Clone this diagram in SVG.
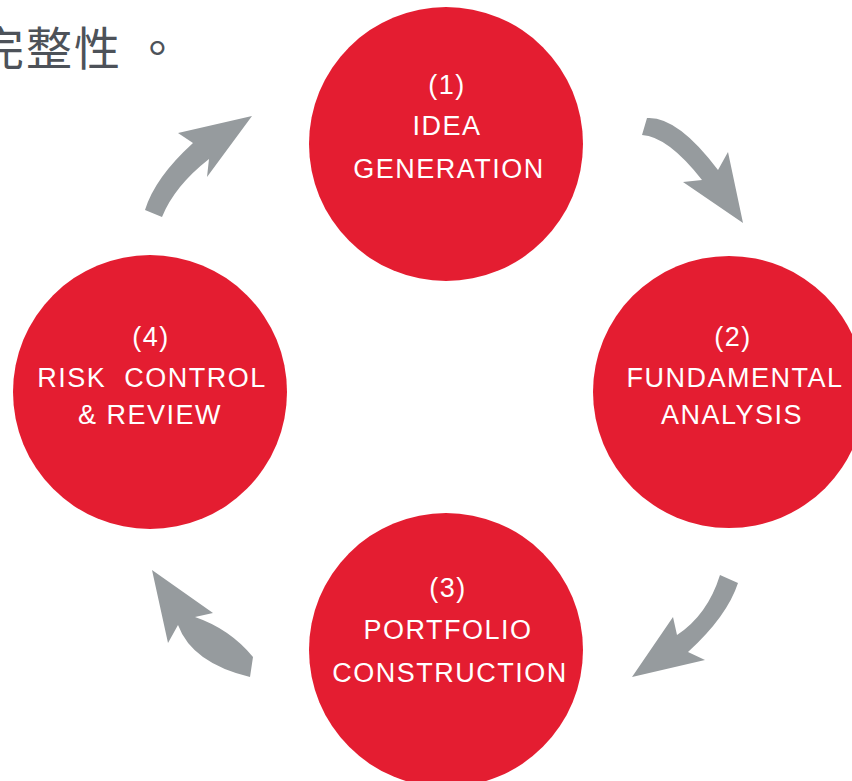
<svg xmlns="http://www.w3.org/2000/svg" width="852" height="781" viewBox="0 0 852 781">
<style>
.node circle{fill:#e41d31}
.node text{font-family:"Liberation Sans",Arial,sans-serif;font-size:27px;fill:#ffffff;text-anchor:middle;letter-spacing:1.5px}
.arrow{fill:#969b9e}
.cap{font-family:"Noto Sans CJK TC","Noto Sans",sans-serif;font-size:46px;fill:#4d5259;letter-spacing:2px}
</style>
<rect width="852" height="781" fill="#ffffff"/>
<text class="cap" x="-22" y="65">完整性 。</text>
<g id="connectors">
<path class="arrow" d="M145,210 Q155,177.5 193,143 L178,133 L252,116 L207,177 L209,159 Q174.5,186 162,217 Z"/>
<path class="arrow" d="M647,118 Q677.5,116 718,170 L728,152 L743,223 L683,182 L702,180 Q668,136.5 642,135 Z"/>
<path class="arrow" d="M738,583 Q727,616.5 688,652 L705,660 L632,677 L673,617 L677,635 Q707.5,615 720,575 Z"/>
<path class="arrow" d="M253,657 Q230,629 195,617 L213,613 L152,570 L168,643 L178,625 Q192,663 250,677 Z"/>
</g>
<g id="node1" class="node">
<circle cx="446" cy="144" r="137"/>
<text x="447" y="94">(1)</text>
<text x="447" y="135">IDEA</text>
<text x="449" y="178">GENERATION</text>
</g>
<g id="node2" class="node">
<circle cx="729" cy="392" r="136"/>
<text x="733" y="346">(2)</text>
<text x="735" y="387">FUNDAMENTAL</text>
<text x="732" y="424">ANALYSIS</text>
</g>
<g id="node3" class="node">
<circle cx="446" cy="650" r="137"/>
<text x="448" y="597">(3)</text>
<text x="448" y="639">PORTFOLIO</text>
<text x="450" y="682">CONSTRUCTION</text>
</g>
<g id="node4" class="node">
<circle cx="150" cy="392" r="137"/>
<text x="151" y="346">(4)</text>
<text x="152" y="387" xml:space="preserve">RISK  CONTROL</text>
<text x="150" y="424">&amp; REVIEW</text>
</g>
</svg>
